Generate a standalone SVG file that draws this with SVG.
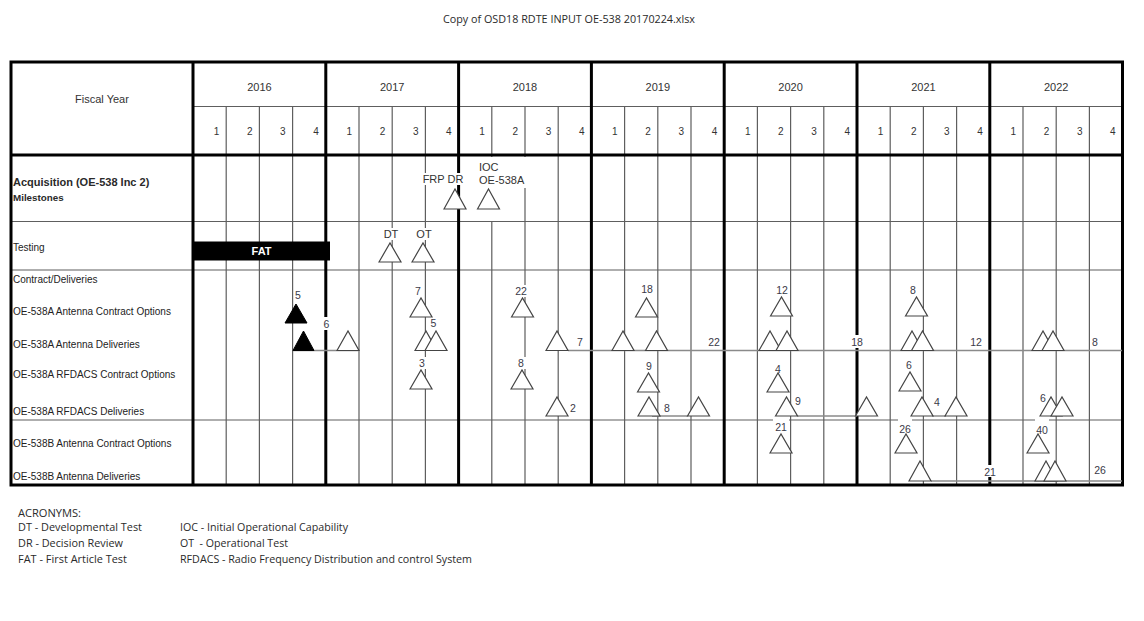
<svg xmlns="http://www.w3.org/2000/svg" width="1144" height="621" viewBox="0 0 1144 621">
<defs>
<style>
.t{font-family:"Liberation Sans",Arial,sans-serif;fill:#2a2a2a}
.c{font-family:"Open Sans","Liberation Sans",sans-serif;fill:#2a2a2a;font-size:10.5px}
.thin{stroke:#5e5e5e;stroke-width:1.2;fill:none}
.thick{stroke:#000;stroke-width:3;fill:none}
.conn{stroke:#8a8a8a;stroke-width:1.3;fill:none}
.tri{fill:#fff;stroke:#444;stroke-width:1.2}
.blk{fill:#000;stroke:#000;stroke-width:1}
.bg{fill:#fff}
.num{font-family:"Liberation Sans",Arial,sans-serif;font-size:10.5px;fill:#3a3a48;text-anchor:middle}
.lab{font-family:"Liberation Sans",Arial,sans-serif;font-size:11px;fill:#333;text-anchor:middle}
.row{font-family:"Liberation Sans",Arial,sans-serif;font-size:10px;fill:#222}
.hd{font-family:"Liberation Sans",Arial,sans-serif;font-size:11px;fill:#333;text-anchor:middle}
.q{font-family:"Liberation Sans",Arial,sans-serif;font-size:10px;fill:#333;text-anchor:middle}
</style>
</defs>
<rect x="0" y="0" width="1144" height="621" fill="#fff"/>
<text class="c" x="443" y="23" textLength="252" lengthAdjust="spacingAndGlyphs">Copy of OSD18 RDTE INPUT OE-538 20170224.xlsx</text>

<g id="grid">
<path class="thin" d="M193 106.5H1122 M11 221.5H1122 M11 270H1122 M11 420H1122"/>
<path class="thin" d="M226.2 106.5V485 M259.4 106.5V485 M292.6 106.5V485 M359 106.5V485 M392.2 106.5V485 M425.4 106.5V485 M491.8 106.5V485 M525 106.5V485 M558.2 106.5V485 M624.6 106.5V485 M657.8 106.5V485 M691 106.5V485 M757.4 106.5V485 M790.6 106.5V485 M823.8 106.5V485 M890.2 106.5V485 M923.4 106.5V485 M956.6 106.5V485 M1023 106.5V485 M1056.2 106.5V485 M1089.4 106.5V485"/>
<rect class="bg" x="477" y="157" width="51" height="31"/>
<rect class="bg" x="487" y="188" width="8" height="33"/>
<path class="thick" d="M193 62V485 M325.8 62V485 M458.6 62V485 M591.4 62V485 M724.2 62V485 M857 62V485 M989.8 62V485 M11 155H1122"/>
<rect class="thick" x="11" y="62" width="1111.5" height="423"/>
</g>

<g id="header">
<text class="hd" x="102" y="103">Fiscal Year</text>
<text class="hd" x="259.4" y="91">2016</text>
<text class="hd" x="392.2" y="91">2017</text>
<text class="hd" x="525" y="91">2018</text>
<text class="hd" x="657.8" y="91">2019</text>
<text class="hd" x="790.6" y="91">2020</text>
<text class="hd" x="923.4" y="91">2021</text>
<text class="hd" x="1056.2" y="91">2022</text>
<g class="q">
<text x="216.5" y="135">1</text><text x="249.7" y="135">2</text><text x="282.9" y="135">3</text><text x="316.1" y="135">4</text>
<text x="349.3" y="135">1</text><text x="382.5" y="135">2</text><text x="415.7" y="135">3</text><text x="448.9" y="135">4</text>
<text x="482.1" y="135">1</text><text x="515.3" y="135">2</text><text x="548.5" y="135">3</text><text x="581.7" y="135">4</text>
<text x="614.9" y="135">1</text><text x="648.1" y="135">2</text><text x="681.3" y="135">3</text><text x="714.5" y="135">4</text>
<text x="747.7" y="135">1</text><text x="780.9" y="135">2</text><text x="814.1" y="135">3</text><text x="847.3" y="135">4</text>
<text x="880.5" y="135">1</text><text x="913.7" y="135">2</text><text x="946.9" y="135">3</text><text x="980.1" y="135">4</text>
<text x="1013.3" y="135">1</text><text x="1046.5" y="135">2</text><text x="1079.7" y="135">3</text><text x="1112.9" y="135">4</text>
</g>
</g>

<g id="row-labels">
<text class="t" x="13" y="186" font-size="11" font-weight="bold">Acquisition (OE-538 Inc 2)</text>
<text class="t" x="13" y="201" font-size="9.8" font-weight="bold">Milestones</text>
<text class="row" x="13" y="251">Testing</text>
<text class="row" x="13" y="283">Contract/Deliveries</text>
<text class="row" x="13" y="315">OE-538A Antenna Contract Options</text>
<text class="row" x="13" y="347.5">OE-538A Antenna Deliveries</text>
<text class="row" x="13" y="377.5">OE-538A RFDACS Contract Options</text>
<text class="row" x="13" y="415">OE-538A RFDACS Deliveries</text>
<text class="row" x="13" y="446.5">OE-538B Antenna Contract Options</text>
<text class="row" x="13" y="480">OE-538B Antenna Deliveries</text>
</g>

<g id="connectors">
<path class="conn" d="M293 350.5H358 M568 350.5H1122 M652 416H688 M797 416H857 M932 416H946 M931 481H1122"/>
</g>

<g id="fat">
<rect x="193" y="241.5" width="137" height="19" fill="#000"/>
<text x="261.5" y="255" font-family="Liberation Sans,Arial,sans-serif" font-size="11" font-weight="bold" fill="#fff" text-anchor="middle">FAT</text>
</g>

<g id="milestone-frp-dr">
<rect class="bg" x="421" y="173" width="44" height="12"/>
<text class="lab" x="443" y="183">FRP DR</text>
<polygon class="tri" points="444,209 455,189 466,209"/>
</g>
<g id="milestone-ioc">
<text class="lab" x="479" y="171" style="text-anchor:start">IOC</text>
<text class="lab" x="479" y="184" style="text-anchor:start">OE-538A</text>
<polygon class="tri" points="477.5,209 488.5,189 499.5,209"/>
</g>
<g id="test-dt">
<rect class="bg" x="383" y="228" width="16" height="12"/>
<text class="lab" x="391" y="238">DT</text>
<polygon class="tri" points="379,262 390,243 401,262"/>
</g>
<g id="test-ot">
<rect class="bg" x="416" y="228" width="16" height="12"/>
<text class="lab" x="424" y="238">OT</text>
<polygon class="tri" points="412,262 423,243 434,262"/>
</g>

<g id="a-antenna-contract">
<polygon class="blk" points="285,323 296,304 307,323"/>
<text class="num" x="298" y="299">5</text>
<polygon class="tri" points="410,317 421,298 432,317"/>
<text class="num" x="418" y="295">7</text>
<polygon class="tri" points="511.5,317 522.5,298 533.5,317"/>
<rect class="bg" x="514" y="285" width="14" height="12"/>
<text class="num" x="521" y="295">22</text>
<polygon class="tri" points="635.5,317 646.5,298 657.5,317"/>
<text class="num" x="647" y="293">18</text>
<polygon class="tri" points="770.5,316 781.5,297 792.5,316"/>
<text class="num" x="782" y="294">12</text>
<polygon class="tri" points="905.5,316 916.5,297 927.5,316"/>
<text class="num" x="913" y="294">8</text>
</g>

<g id="a-antenna-deliveries">
<polygon class="blk" points="293,350.5 303.5,331 314,350.5"/>
<polygon class="tri" points="337,350.5 348,331 359,350.5"/>
<rect class="bg" x="322" y="317" width="9" height="13"/>
<text class="num" x="326.5" y="328">6</text>
<polygon class="tri" points="415,350.5 426,331 437,350.5"/>
<polygon class="tri" points="425,350.5 436,331 447,350.5"/>
<text class="num" x="433.5" y="327">5</text>
<polygon class="tri" points="546,350.5 557,331 568,350.5"/>
<text class="num" x="580" y="346">7</text>
<polygon class="tri" points="612,350.5 623,331 634,350.5"/>
<polygon class="tri" points="645.5,350.5 656.5,331 667.5,350.5"/>
<text class="num" x="714" y="346">22</text>
<polygon class="tri" points="759,350.5 770,331 781,350.5"/>
<polygon class="tri" points="776,350.5 787,331 798,350.5"/>
<rect class="bg" x="850" y="335" width="14" height="13"/>
<text class="num" x="857" y="346">18</text>
<polygon class="tri" points="901,350.5 912,331 923,350.5"/>
<polygon class="tri" points="911.5,350.5 922.5,331 933.5,350.5"/>
<text class="num" x="976" y="346">12</text>
<polygon class="tri" points="1032,350.5 1043,331 1054,350.5"/>
<polygon class="tri" points="1042,350.5 1053,331 1064,350.5"/>
<text class="num" x="1095" y="346">8</text>
</g>

<g id="a-rfdacs-contract">
<polygon class="tri" points="410,389 421,370 432,389"/>
<rect class="bg" x="418" y="357" width="9" height="12"/>
<text class="num" x="422" y="367">3</text>
<polygon class="tri" points="511,389 522,370 533,389"/>
<rect class="bg" x="517" y="357" width="9" height="12"/>
<text class="num" x="521" y="367">8</text>
<polygon class="tri" points="637.5,392 648.5,373 659.5,392"/>
<text class="num" x="649" y="370">9</text>
<polygon class="tri" points="767,392 778,373 789,392"/>
<text class="num" x="778" y="373">4</text>
<polygon class="tri" points="899,391 910,372 921,391"/>
<text class="num" x="909" y="369">6</text>
</g>

<g id="a-rfdacs-deliveries">
<polygon class="tri" points="546,416 557,397 568,416"/>
<text class="num" x="573" y="412">2</text>
<polygon class="tri" points="638,416 649,397 660,416"/>
<text class="num" x="667" y="412">8</text>
<polygon class="tri" points="687.5,416 698.5,397 709.5,416"/>
<polygon class="tri" points="775.5,416 786.5,397 797.5,416"/>
<text class="num" x="798" y="405">9</text>
<polygon class="tri" points="855.5,416 866.5,397 877.5,416"/>
<polygon class="tri" points="911,416 922,397 933,416"/>
<text class="num" x="937" y="406">4</text>
<polygon class="tri" points="945,416 956,397 967,416"/>
<text class="num" x="1043" y="402">6</text>
<polygon class="tri" points="1040,416 1051,397 1062,416"/>
<polygon class="tri" points="1051,416 1062,397 1073,416"/>
</g>

<g id="b-antenna-contract">
<rect class="bg" x="773" y="419" width="16" height="3"/>
<text class="num" x="781" y="431">21</text>
<polygon class="tri" points="770,453 781,434 792,453"/>
<rect class="bg" x="898" y="419" width="14" height="3"/>
<text class="num" x="905" y="433">26</text>
<polygon class="tri" points="895,453 906,434 917,453"/>
<rect class="bg" x="1035" y="419" width="14" height="3"/>
<text class="num" x="1042" y="434">40</text>
<polygon class="tri" points="1027,453 1038,434 1049,453"/>
</g>

<g id="b-antenna-deliveries">
<polygon class="tri" points="909,481 920,461 931,481"/>
<rect class="bg" x="983" y="465" width="14" height="12"/>
<text class="num" x="990" y="476">21</text>
<polygon class="tri" points="1035,481 1046,461 1057,481"/>
<polygon class="tri" points="1044,481 1055,461 1066,481"/>
<text class="num" x="1100" y="474">26</text>
</g>

<g id="acronyms" class="c">
<text x="18" y="517" textLength="63" lengthAdjust="spacingAndGlyphs">ACRONYMS:</text>
<text x="18" y="531" textLength="124" lengthAdjust="spacingAndGlyphs">DT - Developmental Test</text>
<text x="18" y="547" textLength="105" lengthAdjust="spacingAndGlyphs">DR - Decision Review</text>
<text x="18" y="563" textLength="109" lengthAdjust="spacingAndGlyphs">FAT - First Article Test</text>
<text x="180" y="531" textLength="168" lengthAdjust="spacingAndGlyphs">IOC - Initial Operational Capability</text>
<text x="180" y="547" textLength="108" lengthAdjust="spacingAndGlyphs" style="white-space:pre">OT  - Operational Test</text>
<text x="180" y="563" textLength="292" lengthAdjust="spacingAndGlyphs">RFDACS - Radio Frequency Distribution and control System</text>
</g>
</svg>
